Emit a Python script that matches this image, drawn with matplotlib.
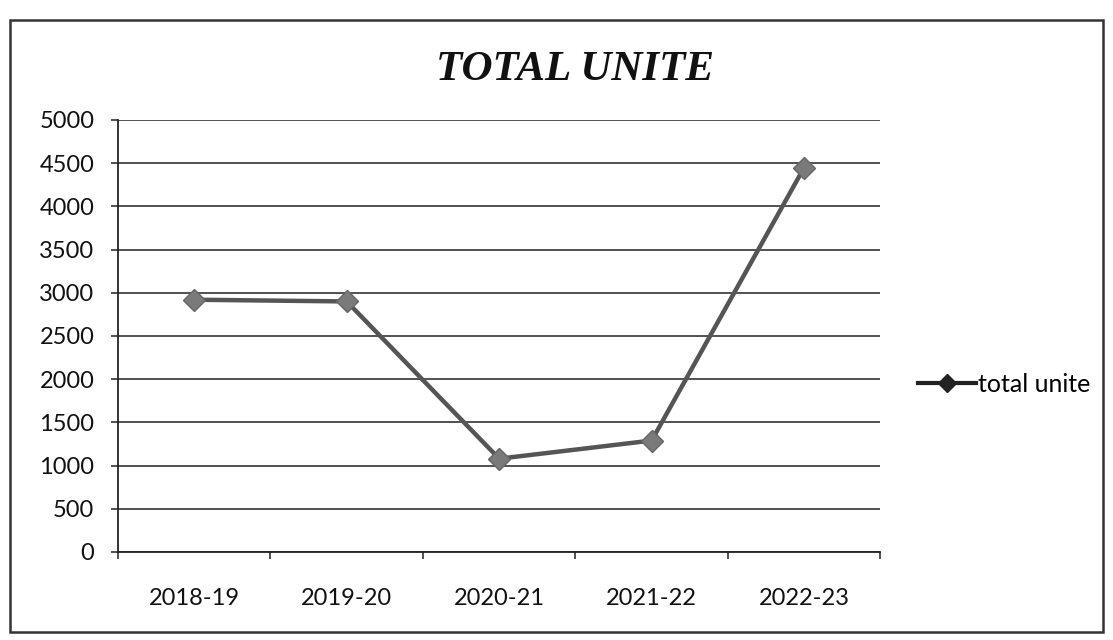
import matplotlib
matplotlib.use("Agg")
import matplotlib.pyplot as plt
from matplotlib.patches import Rectangle
from matplotlib.lines import Line2D

categories = ["2018-19", "2019-20", "2020-21", "2021-22", "2022-23"]
values = [2920, 2900, 1080, 1290, 4450]
yticks = [0, 500, 1000, 1500, 2000, 2500, 3000, 3500, 4000, 4500, 5000]
series_name = "total unite"
title = "TOTAL UNITE"

fig = plt.figure(figsize=(11.13, 6.4), dpi=100)
fig.patch.set_facecolor("white")

# outer chart border
fig.add_artist(Rectangle((10 / 1113, 1 - 632 / 640), (1103 - 10) / 1113, (632 - 20) / 640,
                         transform=fig.transFigure, fill=False, edgecolor="#333333", linewidth=1.8))

ax = fig.add_axes([0.106, 0.1375, 0.685, 0.675])
x = list(range(len(categories)))
ax.plot(x, values, color="#555555", linewidth=3.2, marker="D", markersize=11,
        markerfacecolor="#7a7a7a", markeredgecolor="#666666", zorder=3)

ax.set_xlim(-0.5, len(categories) - 0.5)
ax.set_ylim(0, 5000)
ax.set_yticks(yticks)
ax.set_yticklabels([str(v) for v in yticks])
ax.yaxis.grid(True, color="#222222", linewidth=1.1)
ax.set_axisbelow(True)

ax.set_xticks([i - 0.5 for i in range(len(categories) + 1)])
ax.set_xticklabels([])
ax.set_xticks(x, minor=True)
ax.set_xticklabels(categories, minor=True)
ax.tick_params(axis="x", which="minor", length=0, pad=26)
ax.tick_params(axis="x", which="major", length=5, width=1.1, color="#222222", direction="out")
ax.tick_params(axis="y", length=5, width=1.1, color="#222222", direction="out", pad=12)

for lab in ax.get_xticklabels(minor=True) + ax.get_yticklabels():
    lab.set_fontfamily("Lato")
    lab.set_fontsize(17)
    lab.set_color("#111111")

for s in ["top", "right"]:
    ax.spines[s].set_visible(False)
for s in ["left", "bottom"]:
    ax.spines[s].set_color("#222222")
    ax.spines[s].set_linewidth(1.3)

fig.text(0.517, 0.89, title, ha="center", va="center", fontsize=31,
         fontfamily="Liberation Serif", fontweight="bold", fontstyle="italic", color="#111111")

handle = Line2D([], [], color="#222222", linewidth=3, marker="D", markersize=9,
                markerfacecolor="#222222", markeredgecolor="#222222")
leg = fig.legend([handle], [series_name], loc="center left", bbox_to_anchor=(0.805, 0.40),
                 frameon=False, prop={"family": "Lato", "size": 18},
                 handlelength=2.3, handletextpad=0.1)

fig.savefig("out.png", dpi=100, facecolor="white")
